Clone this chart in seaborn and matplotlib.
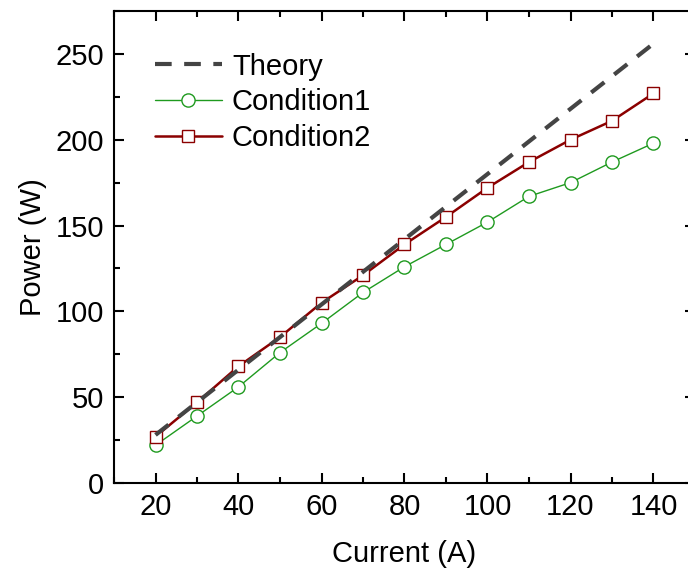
import matplotlib
matplotlib.use("Agg")
import matplotlib.pyplot as plt
import seaborn as sns
import pandas as pd
from matplotlib.ticker import MultipleLocator

current = [20, 30, 40, 50, 60, 70, 80, 90, 100, 110, 120, 130, 140]
theory = [28, 47, 66, 85, 104, 123, 142, 161, 180, 199, 218, 237, 256]
condition1 = [22, 39, 56, 76, 93, 111, 126, 139, 152, 167, 175, 187, 198]
condition2 = [27, 47, 68, 85, 105, 121, 139, 155, 172, 187, 200, 211, 227]

sns.set_style("ticks")
plt.rcParams['font.family'] = ['Liberation Sans', 'DejaVu Sans']
plt.rcParams['text.color'] = 'black'
plt.rcParams['axes.labelcolor'] = 'black'

FS = 21

fig = plt.figure(figsize=(6.88, 5.74), dpi=100)
ax = fig.add_axes([114/688, 91/574, 581/688, 472/574])

df1 = pd.DataFrame({"Current": current, "Power": condition1})
df2 = pd.DataFrame({"Current": current, "Power": condition2})
dft = pd.DataFrame({"Current": current, "Power": theory})

sns.lineplot(data=df1, x="Current", y="Power", ax=ax, color="#1f9a1f", lw=1.0,
             marker="o", markersize=9.5, markerfacecolor="white",
             markeredgecolor="#1f9a1f", markeredgewidth=1.0, label="Condition1", zorder=2)
sns.lineplot(data=df2, x="Current", y="Power", ax=ax, color="#8b0000", lw=1.8,
             marker="s", markersize=8.3, markerfacecolor="white",
             markeredgecolor="#8b0000", markeredgewidth=1.0, label="Condition2", zorder=3)
sns.lineplot(data=dft, x="Current", y="Power", ax=ax, color="#444444", lw=3.0,
             label="Theory", zorder=4)
ax.lines[-1].set_dashes((4, 3))

ax.set_xlim(10, 150)
ax.set_ylim(0, 275)
ax.xaxis.set_major_locator(MultipleLocator(20))
ax.xaxis.set_minor_locator(MultipleLocator(10))
ax.yaxis.set_major_locator(MultipleLocator(50))
ax.yaxis.set_minor_locator(MultipleLocator(25))
ax.tick_params(which="both", direction="in", top=True, right=True, width=1.5,
               labelsize=FS, colors="black", pad=7)
ax.tick_params(which="major", length=7)
ax.tick_params(which="minor", length=4)
for s in ax.spines.values():
    s.set_visible(True)
    s.set_linewidth(1.5)
    s.set_color("black")

ax.set_xlabel("Current (A)", fontsize=FS, labelpad=14, color="black")
ax.set_ylabel("Power (W)", fontsize=FS, labelpad=6, color="black")

handles, labels = ax.get_legend_handles_labels()
order = [labels.index(l) for l in ["Theory", "Condition1", "Condition2"]]
leg = ax.legend([handles[i] for i in order], [labels[i] for i in order],
                loc="upper left", bbox_to_anchor=(0.07, 0.912), frameon=False,
                fontsize=FS, handlelength=2.3, handletextpad=0.35, labelspacing=0.27,
                borderaxespad=0, borderpad=0)
for t in leg.get_texts():
    t.set_color("black")

fig.savefig("out.png", dpi=100)
